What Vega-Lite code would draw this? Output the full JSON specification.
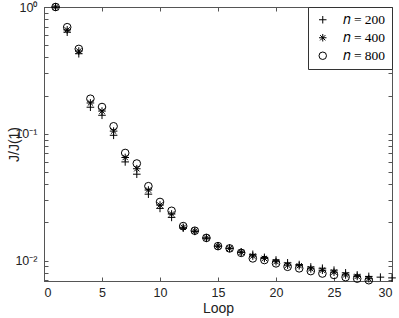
{
  "$schema": "https://vega.github.io/schema/vega-lite/v6.json",
  "width": 348,
  "height": 274,
  "autosize": {"type": "none"},
  "padding": {"left": 44, "top": 7, "right": 7, "bottom": 37},
  "background": "white",
  "config": {
    "view": {"stroke": "#555555", "strokeWidth": 1},
    "font": "Liberation Sans",
    "axis": {
      "domainColor": "#555555",
      "tickColor": "#555555",
      "tickSize": -4,
      "grid": false,
      "labelColor": "#222222",
      "titleColor": "#222222",
      "labelFont": "Liberation Sans",
      "titleFont": "Liberation Sans",
      "labelFontSize": 12.5,
      "titleFontSize": 14,
      "titleFontWeight": "normal"
    }
  },
  "data": {
    "values": [
      {"loop": 1, "n": 200, "v": 1.0},
      {"loop": 2, "n": 200, "v": 0.633},
      {"loop": 3, "n": 200, "v": 0.428},
      {"loop": 4, "n": 200, "v": 0.162},
      {"loop": 5, "n": 200, "v": 0.140},
      {"loop": 6, "n": 200, "v": 0.0973},
      {"loop": 7, "n": 200, "v": 0.060},
      {"loop": 8, "n": 200, "v": 0.048},
      {"loop": 9, "n": 200, "v": 0.0334},
      {"loop": 10, "n": 200, "v": 0.0258},
      {"loop": 11, "n": 200, "v": 0.0219},
      {"loop": 12, "n": 200, "v": 0.0180},
      {"loop": 13, "n": 200, "v": 0.0170},
      {"loop": 14, "n": 200, "v": 0.0150},
      {"loop": 15, "n": 200, "v": 0.0130},
      {"loop": 16, "n": 200, "v": 0.0125},
      {"loop": 17, "n": 200, "v": 0.0117},
      {"loop": 18, "n": 200, "v": 0.0112},
      {"loop": 19, "n": 200, "v": 0.0106},
      {"loop": 20, "n": 200, "v": 0.0101},
      {"loop": 21, "n": 200, "v": 0.0096},
      {"loop": 22, "n": 200, "v": 0.0093},
      {"loop": 23, "n": 200, "v": 0.0089},
      {"loop": 24, "n": 200, "v": 0.0087},
      {"loop": 25, "n": 200, "v": 0.0084},
      {"loop": 26, "n": 200, "v": 0.0080},
      {"loop": 27, "n": 200, "v": 0.0077},
      {"loop": 28, "n": 200, "v": 0.0075},
      {"loop": 29, "n": 200, "v": 0.0074},
      {"loop": 30, "n": 200, "v": 0.0073},
      {"loop": 1, "n": 400, "v": 1.0},
      {"loop": 2, "n": 400, "v": 0.66},
      {"loop": 3, "n": 400, "v": 0.45},
      {"loop": 4, "n": 400, "v": 0.175},
      {"loop": 5, "n": 400, "v": 0.151},
      {"loop": 6, "n": 400, "v": 0.105},
      {"loop": 7, "n": 400, "v": 0.065},
      {"loop": 8, "n": 400, "v": 0.053},
      {"loop": 9, "n": 400, "v": 0.036},
      {"loop": 10, "n": 400, "v": 0.0274},
      {"loop": 11, "n": 400, "v": 0.0233},
      {"loop": 12, "n": 400, "v": 0.0183},
      {"loop": 13, "n": 400, "v": 0.0171},
      {"loop": 14, "n": 400, "v": 0.0151},
      {"loop": 15, "n": 400, "v": 0.0130},
      {"loop": 16, "n": 400, "v": 0.0125},
      {"loop": 17, "n": 400, "v": 0.0116},
      {"loop": 18, "n": 400, "v": 0.01085},
      {"loop": 19, "n": 400, "v": 0.0104},
      {"loop": 20, "n": 400, "v": 0.0098},
      {"loop": 21, "n": 400, "v": 0.0092},
      {"loop": 22, "n": 400, "v": 0.0091},
      {"loop": 23, "n": 400, "v": 0.0086},
      {"loop": 24, "n": 400, "v": 0.0084},
      {"loop": 25, "n": 400, "v": 0.0081},
      {"loop": 26, "n": 400, "v": 0.0077},
      {"loop": 27, "n": 400, "v": 0.0075},
      {"loop": 28, "n": 400, "v": 0.0072},
      {"loop": 1, "n": 800, "v": 1.0},
      {"loop": 2, "n": 800, "v": 0.693},
      {"loop": 3, "n": 800, "v": 0.467},
      {"loop": 4, "n": 800, "v": 0.189},
      {"loop": 5, "n": 800, "v": 0.1626},
      {"loop": 6, "n": 800, "v": 0.1146},
      {"loop": 7, "n": 800, "v": 0.0706},
      {"loop": 8, "n": 800, "v": 0.0583},
      {"loop": 9, "n": 800, "v": 0.0386},
      {"loop": 10, "n": 800, "v": 0.029},
      {"loop": 11, "n": 800, "v": 0.0247},
      {"loop": 12, "n": 800, "v": 0.0187},
      {"loop": 13, "n": 800, "v": 0.0172},
      {"loop": 14, "n": 800, "v": 0.0151},
      {"loop": 15, "n": 800, "v": 0.0130},
      {"loop": 16, "n": 800, "v": 0.01247},
      {"loop": 17, "n": 800, "v": 0.0115},
      {"loop": 18, "n": 800, "v": 0.0104},
      {"loop": 19, "n": 800, "v": 0.0101},
      {"loop": 20, "n": 800, "v": 0.0095},
      {"loop": 21, "n": 800, "v": 0.00893},
      {"loop": 22, "n": 800, "v": 0.00868},
      {"loop": 23, "n": 800, "v": 0.00826},
      {"loop": 24, "n": 800, "v": 0.0079},
      {"loop": 25, "n": 800, "v": 0.0077},
      {"loop": 26, "n": 800, "v": 0.0074},
      {"loop": 27, "n": 800, "v": 0.0072},
      {"loop": 28, "n": 800, "v": 0.0070}
    ]
  },
  "layer": [
    {
      "mark": {"type": "point", "filled": false, "stroke": "black", "strokeWidth": 1, "size": 58, "opacity": 1, "clip": false},
      "encoding": {
        "x": {
          "field": "loop", "type": "quantitative",
          "scale": {"domain": [0, 30], "nice": false, "zero": false},
          "axis": {"orient": "bottom", "values": [0, 5, 10, 15, 20, 25, 30], "title": "Loop", "labelPadding": 9, "titlePadding": 3}
        },
        "y": {
          "field": "v", "type": "quantitative",
          "scale": {"type": "log", "domain": [0.0069, 1], "nice": false},
          "axis": {
            "orient": "left",
            "values": [1, 0.9, 0.8, 0.7, 0.6, 0.5, 0.4, 0.3, 0.2, 0.1, 0.09, 0.08, 0.07, 0.06, 0.05, 0.04, 0.03, 0.02, 0.01, 0.009, 0.008, 0.007],
            "labelExpr": "datum.value == 1 ? '10⁰' : datum.value == 0.1 ? '10⁻¹' : datum.value == 0.01 ? '10⁻²' : ''",
            "labelOverlap": false,
            "labelPadding": 11,
            "title": "J/J(1)",
            "titleX": -23,
            "titleY": 137,
            "titleAngle": 270,
            "titleBaseline": "bottom",
            "titleAlign": "center"
          }
        },
        "shape": {
          "field": "n", "type": "nominal",
          "scale": {"domain": [200, 400, 800], "range": ["M-1,0L1,0M0,-1L0,1", "M-1,0L1,0M0,-1L0,1M-0.7,-0.7L0.7,0.7M-0.7,0.7L0.7,-0.7", "circle"]},
          "legend": {
            "title": null,
            "orient": "top-right",
            "offset": 0,
            "labelExpr": "'𝑛 = ' + datum.label",
            "labelFont": "Liberation Serif",
            "labelFontSize": 13.5,
            "labelColor": "black",
            "symbolSize": 56,
            "symbolStrokeColor": "black",
            "symbolStrokeWidth": 1,
            "strokeColor": "#333333",
            "fillColor": "white",
            "padding": 6,
            "rowPadding": 3,
            "labelOffset": 13,
            "symbolOffset": 2
          }
        }
      }
    },
    {
      "mark": {"type": "point", "opacity": 0},
      "encoding": {
        "x": {"field": "loop", "type": "quantitative", "axis": {"orient": "top", "values": [0, 5, 10, 15, 20, 25, 30], "labels": false, "title": null}},
        "y": {
          "field": "v", "type": "quantitative",
          "axis": {"orient": "right", "values": [1, 0.9, 0.8, 0.7, 0.6, 0.5, 0.4, 0.3, 0.2, 0.1, 0.09, 0.08, 0.07, 0.06, 0.05, 0.04, 0.03, 0.02, 0.01, 0.009, 0.008, 0.007], "labels": false, "title": null}
        }
      }
    }
  ]
}
